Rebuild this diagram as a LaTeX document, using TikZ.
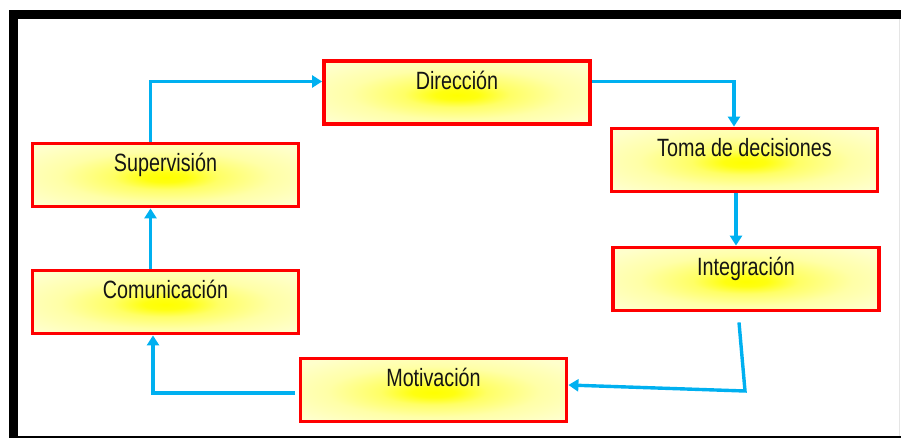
\documentclass[tikz,border=0pt]{standalone}
\usepackage{fontspec}
\setmainfont{Liberation Sans}[FakeStretch=0.79]
\usetikzlibrary{arrows.meta,calc}
\definecolor{boxred}{HTML}{FF0000}
\definecolor{boxpale}{HTML}{FFFFCC}
\definecolor{glowyellow}{HTML}{FFFF00}
\definecolor{flowblue}{HTML}{00B0F0}
\definecolor{txt}{HTML}{141414}
% yellow glow in the middle of each stage box, fading quickly to pale
\pgfdeclareradialshading{glow}{\pgfpoint{0bp}{-2bp}}{%
  color(0bp)=(glowyellow);
  color(4bp)=(glowyellow!92!boxpale);
  color(10bp)=(glowyellow!50!boxpale);
  color(20bp)=(glowyellow!18!boxpale);
  color(32bp)=(boxpale);
  color(50bp)=(boxpale)}

\begin{document}
\begin{tikzpicture}[x=1pt,y=-1pt,
  stage/.style={draw=boxred, line width=3.8pt, shade, shading=glow, rectangle,
    inner sep=0pt, minimum width=266pt, minimum height=63pt,
    text height=28pt, text depth=35pt,
    font=\fontsize{25}{30}\selectfont, text=txt},
  flow/.style={draw=flowblue, line width=3.4pt,
    -{Triangle[length=10pt,width=12pt]}}]

\useasboundingbox (0,0) rectangle (901,439);

% frame
\fill[black] (9,10) rectangle (901,19);
\fill[black] (9,10) rectangle (18,437.5);
\draw[black, line width=1.5pt] (18,436.8) -- (901,436.8);
\draw[black!10, line width=1pt] (899,19) -- (899,436);

% stages of the cycle
\node[stage] (dir)   at (457,92.5)  {Dirección};
\node[stage] (toma)  at (744.5,160) {Toma de decisiones};
\node[stage] (integ) at (746,279)   {Integración};
\node[stage] (motiv) at (433.5,390) {Motivación};
\node[stage] (comm)  at (165.5,302) {Comunicación};
\node[stage] (sup)   at (165.5,175) {Supervisión};

% connectors
\draw[flow] ($(sup.north)+(-15,0)$) |- ($(dir.west)+(0,-11)$);
\draw[flow] ($(dir.east)+(0,-11)$) -| ($(toma.north)+(-10.5,0)$);
\draw[flow] ($(toma.south)+(-8.5,0)$) coordinate (t1) -- (t1 |- integ.north);
\coordinate (bend) at (745,391);
\draw[flow] ($(integ.south)+(-7,10)$) -- (bend) -- ($(motiv.east)+(0,-5)$);
\draw[flow] ($(motiv.west)+(-4,3)$) -| ($(comm.south)+(-12.5,0)$);
\draw[flow] ($(comm.north)+(-15,0)$) -- ($(sup.south)+(-15,0)$);
\end{tikzpicture}
\end{document}
